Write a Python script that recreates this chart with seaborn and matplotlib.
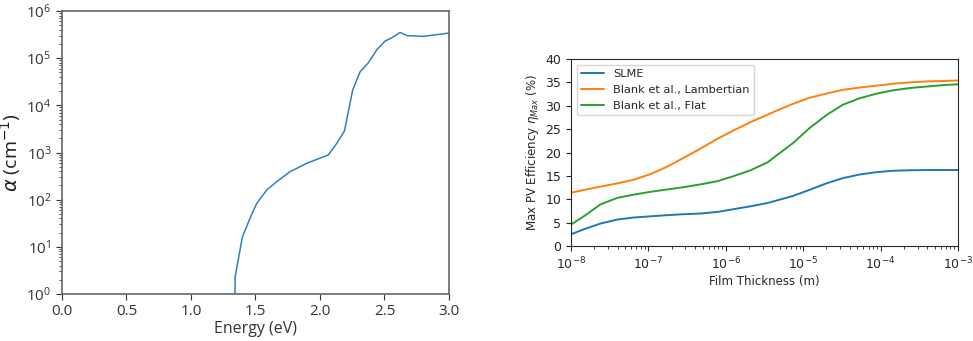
import numpy as np
import pandas as pd
import seaborn as sns
import matplotlib
matplotlib.use("Agg")
import matplotlib.pyplot as plt

# absorption spectrum (left)
energy = [1.340, 1.342, 1.398, 1.457, 1.509, 1.587, 1.664, 1.767, 1.897, 2.065,
          2.129, 2.190, 2.253, 2.310, 2.375, 2.440, 2.504, 2.556, 2.620, 2.677,
          2.800, 3.000]
alpha = [0.3, 2.3, 16, 40, 83, 160, 240, 390, 590, 890,
         1550, 2880, 21000, 51000, 80000, 150000, 230000, 270000, 350000, 300000,
         290000, 340000]

# max efficiency vs thickness (right), thickness as log10(m)
log_thickness = [-8, -7.83, -7.62, -7.40, -7.185, -6.97, -6.754, -6.54, -6.32, -6.1,
                 -5.89, -5.68, -5.46, -5.35, -5.133, -4.92, -4.70, -4.49, -4.27, -4.05,
                 -3.84, -3.62, -3.41, -3.2, -3.0]
slme = [2.5, 3.6, 4.8, 5.66, 6.1, 6.35, 6.6, 6.8, 6.95, 7.3,
        7.9, 8.5, 9.2, 9.7, 10.7, 12.0, 13.4, 14.5, 15.3, 15.8,
        16.1, 16.2, 16.25, 16.25, 16.25]
lambertian = [11.4, 12.0, 12.7, 13.4, 14.2, 15.4, 17.0, 18.9, 20.9, 23.0,
              24.8, 26.5, 28.1, 28.9, 30.4, 31.7, 32.6, 33.4, 33.9, 34.3,
              34.7, 35.0, 35.2, 35.3, 35.4]
flat = [4.6, 6.4, 8.9, 10.3, 11.0, 11.6, 12.1, 12.6, 13.2, 13.9,
        15.0, 16.2, 17.9, 19.3, 22.0, 25.2, 28.0, 30.2, 31.6, 32.6,
        33.3, 33.8, 34.1, 34.4, 34.6]

sns.set_style("ticks")

fig = plt.figure(figsize=(9.73, 3.41), dpi=100)
ax1 = fig.add_axes([62 / 973, 47 / 341, 387 / 973, 283 / 341])
ax2 = fig.add_axes([571 / 973, 95 / 341, 387 / 973, 187 / 341])

abs_df = pd.DataFrame({"Energy": energy, "alpha": alpha})
sns.lineplot(data=abs_df, x="Energy", y="alpha", ax=ax1, color="#2f7fc1", lw=1.1)
ax1.set_yscale("log")
ax1.set_xlim(0, 3)
ax1.set_ylim(1, 1e6)
ax1.set_xticks(np.arange(0, 3.01, 0.5))
lfont = ["Open Sans", "DejaVu Sans"]
ax1.set_xlabel("Energy (eV)", fontsize=11.5, color="#333333", family=lfont, labelpad=1)
ax1.set_ylabel(r"$\alpha$ (cm$^{-1}$)", fontsize=14, color="#222222", family=lfont, labelpad=2)
for lab in ax1.get_xticklabels() + ax1.get_yticklabels():
    lab.set_fontfamily(lfont)
    lab.set_fontsize(11)
    lab.set_color("#333333")
for sp in ax1.spines.values():
    sp.set_color("#666666")
    sp.set_linewidth(1.2)
ax1.tick_params(axis="both", which="major", length=4, color="#333333")
ax1.tick_params(axis="y", which="minor", length=2, color="#333333")

eff_df = pd.DataFrame({
    "Thickness": np.power(10.0, log_thickness * 3),
    "Efficiency": slme + lambertian + flat,
    "Model": ["SLME"] * len(slme) + ["Blank et al., Lambertian"] * len(lambertian)
             + ["Blank et al., Flat"] * len(flat),
})
sns.lineplot(data=eff_df, x="Thickness", y="Efficiency", hue="Model", ax=ax2,
             palette=["#1f77b4", "#ff7f0e", "#2ca02c"], lw=1.4)
ax2.set_xscale("log")
ax2.set_xlim(1e-8, 1e-3)
ax2.set_ylim(0, 40)
ax2.set_yticks(range(0, 41, 5))
ax2.set_xlabel("Film Thickness (m)", fontsize=8.5, labelpad=2)
ax2.set_ylabel(r"Max PV Efficiency $\eta_{Max}$ (%)", fontsize=8.5, labelpad=3)
ax2.tick_params(axis="both", which="major", labelsize=9, length=3.5)
ax2.tick_params(axis="x", which="minor", length=2)
leg = ax2.legend(title=None, fontsize=8.2, loc="upper left", frameon=True)
leg.get_frame().set_edgecolor("#cccccc")

fig.savefig("out.png", dpi=100)
